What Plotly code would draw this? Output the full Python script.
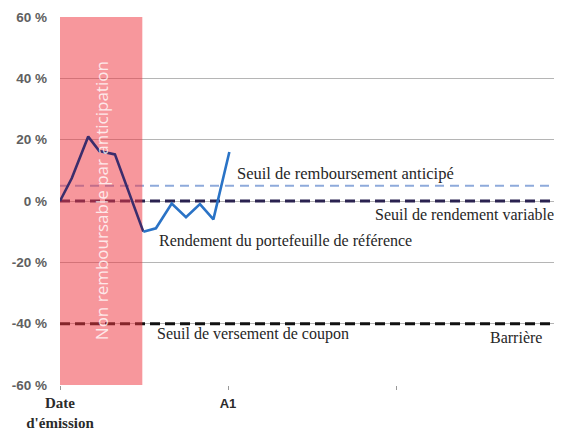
import plotly.graph_objects as go

# Rendement du portefeuille de référence (en %)
curve_x = [0, 0.07, 0.168, 0.234, 0.327, 0.496, 0.571, 0.665, 0.75, 0.833, 0.913, 1.008]
curve_y = [0, 7.4, 21, 16.3, 15.2, -10, -8.9, -0.8, -5.3, -1, -6, 16]
split_idx = 5  # start of the part drawn outside the non-callable window

# Seuils
seuil_remboursement = 5
seuil_rendement = 0
seuil_coupon = -40

# Période non remboursable
non_remb_start = 0
non_remb_end = 0.49

y_ticks = [-60, -40, -20, 0, 20, 40, 60]
y_labels = ["-60 %", "-40 %", "-20 %", "0 %", "20 %", "40 %", "60 %"]
x_ticks = [0, 1, 2]
x_labels = [
    "<b>Date</b><br><b>d'émission</b>",
    "<span style='font-family:Liberation Sans;font-size:13px'><b>A1</b></span>",
    "",
]

x_max = 2.988
serif = "Liberation Serif"

fig = go.Figure()

fig.add_trace(go.Scatter(
    x=curve_x[:split_idx + 1], y=curve_y[:split_idx + 1], mode="lines",
    line=dict(color="#3b2d6c", width=2.6), showlegend=False, hoverinfo="skip",
))
fig.add_trace(go.Scatter(
    x=curve_x[split_idx:], y=curve_y[split_idx:], mode="lines",
    line=dict(color="#2a73c6", width=2.6), showlegend=False, hoverinfo="skip",
))

# dashed thresholds, then the pink window over them (all under the curve)
for level, color, width, dash in [
    (seuil_remboursement, "#8eaadb", 2, "9px,6px"),
    (seuil_rendement, "#2a2250", 3, "10px,5px"),
    (seuil_coupon, "#111111", 3, "10px,5px"),
]:
    fig.add_shape(type="line", xref="x", yref="y", x0=0, x1=x_max, y0=level, y1=level,
                  line=dict(color=color, width=width, dash=dash), layer="between")

fig.add_shape(type="rect", xref="x", yref="y", x0=non_remb_start, x1=non_remb_end,
              y0=-60, y1=60, fillcolor="rgba(240,55,65,0.52)", line=dict(width=0),
              layer="between")

fig.add_annotation(x=(non_remb_start + non_remb_end) / 2, y=0, xref="x", yref="y",
                   text="Non remboursable par anticipation", textangle=-90, showarrow=False,
                   font=dict(family="Open Sans", size=17, color="rgba(255,255,255,0.8)"))

notes = [
    (1.04, 9.1, "Seuil de remboursement anticipé", "left", 16.5),
    (2.955, -4.4, "Seuil de rendement variable", "right", 16),
    (0.575, -13, "Rendement du portefeuille de référence", "left", 16),
    (0.565, -43.4, "Seuil de versement de coupon", "left", 16),
    (2.715, -44.6, "Barrière", "center", 16),
]
for nx, ny, txt, anchor, size in notes:
    fig.add_annotation(x=nx, y=ny, xref="x", yref="y", text=txt, showarrow=False,
                       xanchor=anchor, font=dict(family=serif, size=size, color="#262626"))

fig.update_xaxes(range=[0, x_max], tickvals=x_ticks, ticktext=x_labels,
                 showgrid=False, zeroline=False, showline=False, automargin=False,
                 ticks="outside", ticklen=4, tickcolor="#999",
                 tickfont=dict(family=serif, size=15, color="#2b2b2b"))
fig.update_yaxes(range=[-60, 60], tickvals=y_ticks, ticktext=["<b>%s</b>" % t for t in y_labels],
                 showgrid=True, gridcolor="#b5b5b5", gridwidth=1.3, zeroline=False,
                 showline=False, ticks="", ticklabelstandoff=12, automargin=False,
                 tickfont=dict(family="Liberation Sans", size=13.5, color="#606060"))

# the page body adds an 8px offset, so the figure is sized to fit the window
fig.update_layout(
    width=554, height=425,
    margin=dict(l=52, r=0, t=9, b=48),
    plot_bgcolor="white", paper_bgcolor="white",
)

fig.write_html("out.html")
